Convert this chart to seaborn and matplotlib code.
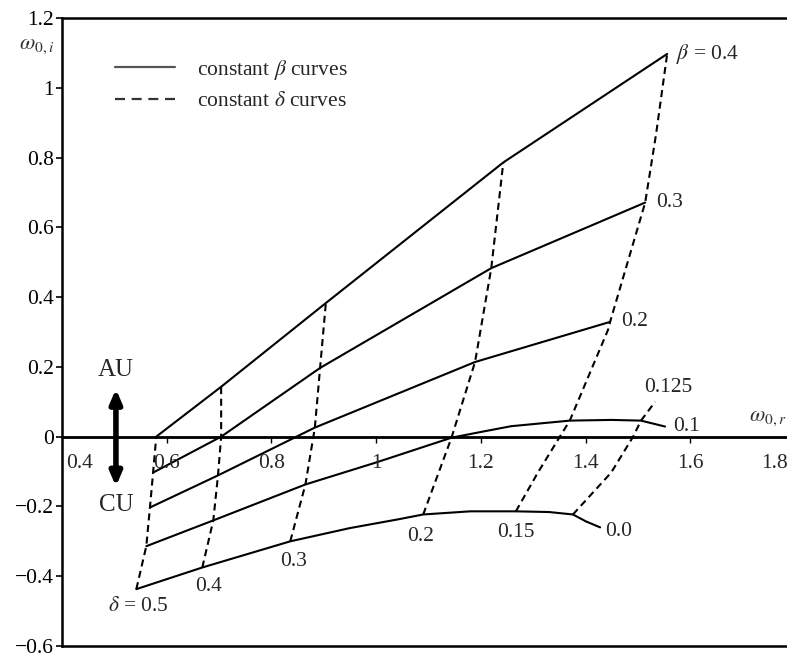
import matplotlib
matplotlib.use("Agg")
import matplotlib.pyplot as plt
from matplotlib.lines import Line2D
import numpy as np
import pandas as pd
import seaborn as sns

# ---- constant-beta curves: (omega_0r, omega_0i) pairs ----
beta_labels = ["0.0", "0.1", "0.2", "0.3", "0.4"]
wr_beta00 = [0.542, 0.668, 0.836, 0.950, 1.042, 1.090, 1.180, 1.267, 1.330, 1.376, 1.401, 1.428]
wi_beta00 = [-0.437, -0.375, -0.300, -0.262, -0.237, -0.223, -0.214, -0.214, -0.216, -0.223, -0.243, -0.260]
wr_beta01 = [0.561, 0.689, 0.865, 1.000, 1.144, 1.195, 1.258, 1.370, 1.450, 1.506, 1.552]
wi_beta01 = [-0.314, -0.240, -0.137, -0.074, -0.003, 0.012, 0.030, 0.046, 0.048, 0.046, 0.029]
wr_beta02 = [0.568, 0.698, 0.883, 1.189, 1.447]
wi_beta02 = [-0.203, -0.111, 0.026, 0.214, 0.329]
wr_beta03 = [0.574, 0.704, 0.893, 1.220, 1.514]
wi_beta03 = [-0.103, 0.000, 0.197, 0.483, 0.671]
wr_beta04 = [0.580, 0.704, 0.904, 1.243, 1.556]
wi_beta04 = [0.000, 0.143, 0.383, 0.786, 1.097]

# ---- constant-delta curves ----
delta_labels = ["$\\delta$ = 0.5", "0.4", "0.3", "0.2", "0.15", "0.125"]
wr_delta050 = [0.542, 0.561, 0.568, 0.574, 0.580]
wi_delta050 = [-0.437, -0.314, -0.203, -0.103, 0.000]
wr_delta040 = [0.668, 0.689, 0.698, 0.704, 0.704]
wi_delta040 = [-0.375, -0.240, -0.111, 0.000, 0.143]
wr_delta030 = [0.836, 0.865, 0.883, 0.893, 0.904]
wi_delta030 = [-0.300, -0.137, 0.026, 0.197, 0.383]
wr_delta020 = [1.090, 1.144, 1.189, 1.220, 1.243]
wi_delta020 = [-0.223, -0.003, 0.214, 0.483, 0.786]
wr_delta015 = [1.267, 1.309, 1.351, 1.370, 1.443, 1.447, 1.514, 1.535, 1.556]
wi_delta015 = [-0.214, -0.103, 0.000, 0.046, 0.306, 0.329, 0.671, 0.869, 1.097]
wr_delta0125 = [1.376, 1.449, 1.491, 1.506, 1.533]
wi_delta0125 = [-0.223, -0.103, 0.000, 0.046, 0.100]

# axis ticks
ytick_vals = [-0.6, -0.4, -0.2, 0.0, 0.2, 0.4, 0.6, 0.8, 1.0, 1.2]
ytick_text = ["\u22120.6", "\u22120.4", "\u22120.2", "0", "0.2", "0.4", "0.6", "0.8", "1", "1.2"]
xtick_vals = [0.6, 0.8, 1.0, 1.2, 1.4, 1.6]
xlabel_text = ["0.4", "0.6", "0.8", "1", "1.2", "1.4", "1.6", "1.8"]
xlabel_pos = [0.434, 0.6, 0.8, 1.0, 1.2, 1.4, 1.6, 1.762]

FS = 15.5

sns.set_theme(style="ticks")
plt.rcParams["font.family"] = ["Liberation Serif", "DejaVu Serif"]
plt.rcParams["mathtext.fontset"] = "stix"

fig = plt.figure(figsize=(7.87, 6.57), dpi=100)
fig.patch.set_facecolor("white")
ax = fig.add_axes([62 / 787, 11 / 657, 725 / 787, 628 / 657])
ax.set_facecolor("white")
ax.set_xlim(0.4, 0.4 + 725 / 523.5)
ax.set_ylim(-0.6, 1.2)

LW = 1.5
DASH = (0, (3.4, 2.2))

beta_curves = [
    (wr_beta00, wi_beta00),
    (wr_beta01, wi_beta01),
    (wr_beta02, wi_beta02),
    (wr_beta03, wi_beta03),
    (wr_beta04, wi_beta04),
]
delta_curves = [
    (wr_delta050, wi_delta050),
    (wr_delta040, wi_delta040),
    (wr_delta030, wi_delta030),
    (wr_delta020, wi_delta020),
    (wr_delta015, wi_delta015),
    (wr_delta0125, wi_delta0125),
]

for xr, yi in beta_curves:
    sns.lineplot(x=xr, y=yi, sort=False, estimator=None, color="black",
                 lw=LW, ax=ax, legend=False)
for xr, yi in delta_curves:
    sns.lineplot(x=xr, y=yi, sort=False, estimator=None, color="black",
                 lw=LW, linestyle=DASH, ax=ax, legend=False)

# horizontal axis through the origin
ax.axhline(0, color="black", lw=1.8, zorder=1)
secax = ax.secondary_xaxis((0 + 0.6) / 1.8)
secax.set_xticks(xtick_vals, labels=[""] * len(xtick_vals))
secax.tick_params(direction="out", length=4, width=1.0, color="black")
secax.spines["bottom"].set_linewidth(1.8)
for txt, xp in zip(xlabel_text, xlabel_pos):
    ax.text(xp, -0.076, txt, ha="center", va="center", fontsize=FS, clip_on=False)

# y axis
ax.set_yticks(ytick_vals, labels=ytick_text)
ax.set_xticks([])
ax.tick_params(axis="y", direction="out", length=4, width=1.2, labelsize=FS, pad=2,
               color="black", labelcolor="black")
for side in ["left", "top", "bottom"]:
    ax.spines[side].set_linewidth(1.8)
    ax.spines[side].set_color("black")
ax.spines["right"].set_visible(False)
ax.set_xlabel("")
ax.set_ylabel("")

# axis names
ax.text(-0.035, 0.955, "$\\omega_{0,i}$", transform=ax.transAxes, fontsize=16,
        color="#333333", ha="center", va="center", clip_on=False)
ax.text(1.748, 0.052, "$\\omega_{0,r}$", fontsize=16, color="#333333",
        ha="center", va="center", clip_on=False)

# curve labels at curve ends
beta_offsets = [(5, -4), (8, 0), (11, 0), (11, 0), (9, 0)]
for (xr, yi), lab, off in zip(beta_curves, beta_labels, beta_offsets):
    text = lab if lab != "0.4" else "$\\beta$ = 0.4"
    ax.annotate(text, xy=(xr[-1], yi[-1]), xytext=off, textcoords="offset pixels",
                ha="left", va="center", fontsize=FS)

delta_offsets = [(2, -17), (6, -19), (3, -20), (-3, -22), (0, -21), (13, 14)]
for (xr, yi), lab, off in zip(delta_curves, delta_labels, delta_offsets):
    ref = (xr[-1], yi[-1]) if lab == "0.125" else (xr[0], yi[0])
    ax.annotate(lab, xy=ref, xytext=off, textcoords="offset pixels",
                ha="center", va="center", fontsize=FS)

# AU / CU double arrow
ax.annotate("", xy=(0.503, -0.143), xytext=(0.503, 0.137),
            arrowprops=dict(arrowstyle="<|-|>,head_length=0.4,head_width=0.17",
                            lw=4, color="black", mutation_scale=20,
                            shrinkA=0, shrinkB=0))
ax.text(0.503, 0.19, "AU", ha="center", va="center", fontsize=18)
ax.text(0.503, -0.195, "CU", ha="center", va="center", fontsize=18)

# legend
handles = [
    Line2D([], [], color="#555555", lw=1.6, linestyle="-"),
    Line2D([], [], color="#333333", lw=1.6, linestyle=(0, (4.5, 3))),
]
ax.legend(handles, ["constant $\\beta$ curves", "constant $\\delta$ curves"],
          loc="upper left", bbox_to_anchor=(0.073, 0.937), borderaxespad=0,
          borderpad=0, frameon=False, fontsize=FS, handlelength=2.8,
          handletextpad=1.0, labelspacing=0.45)

fig.savefig("out.png", dpi=100, facecolor="white")
